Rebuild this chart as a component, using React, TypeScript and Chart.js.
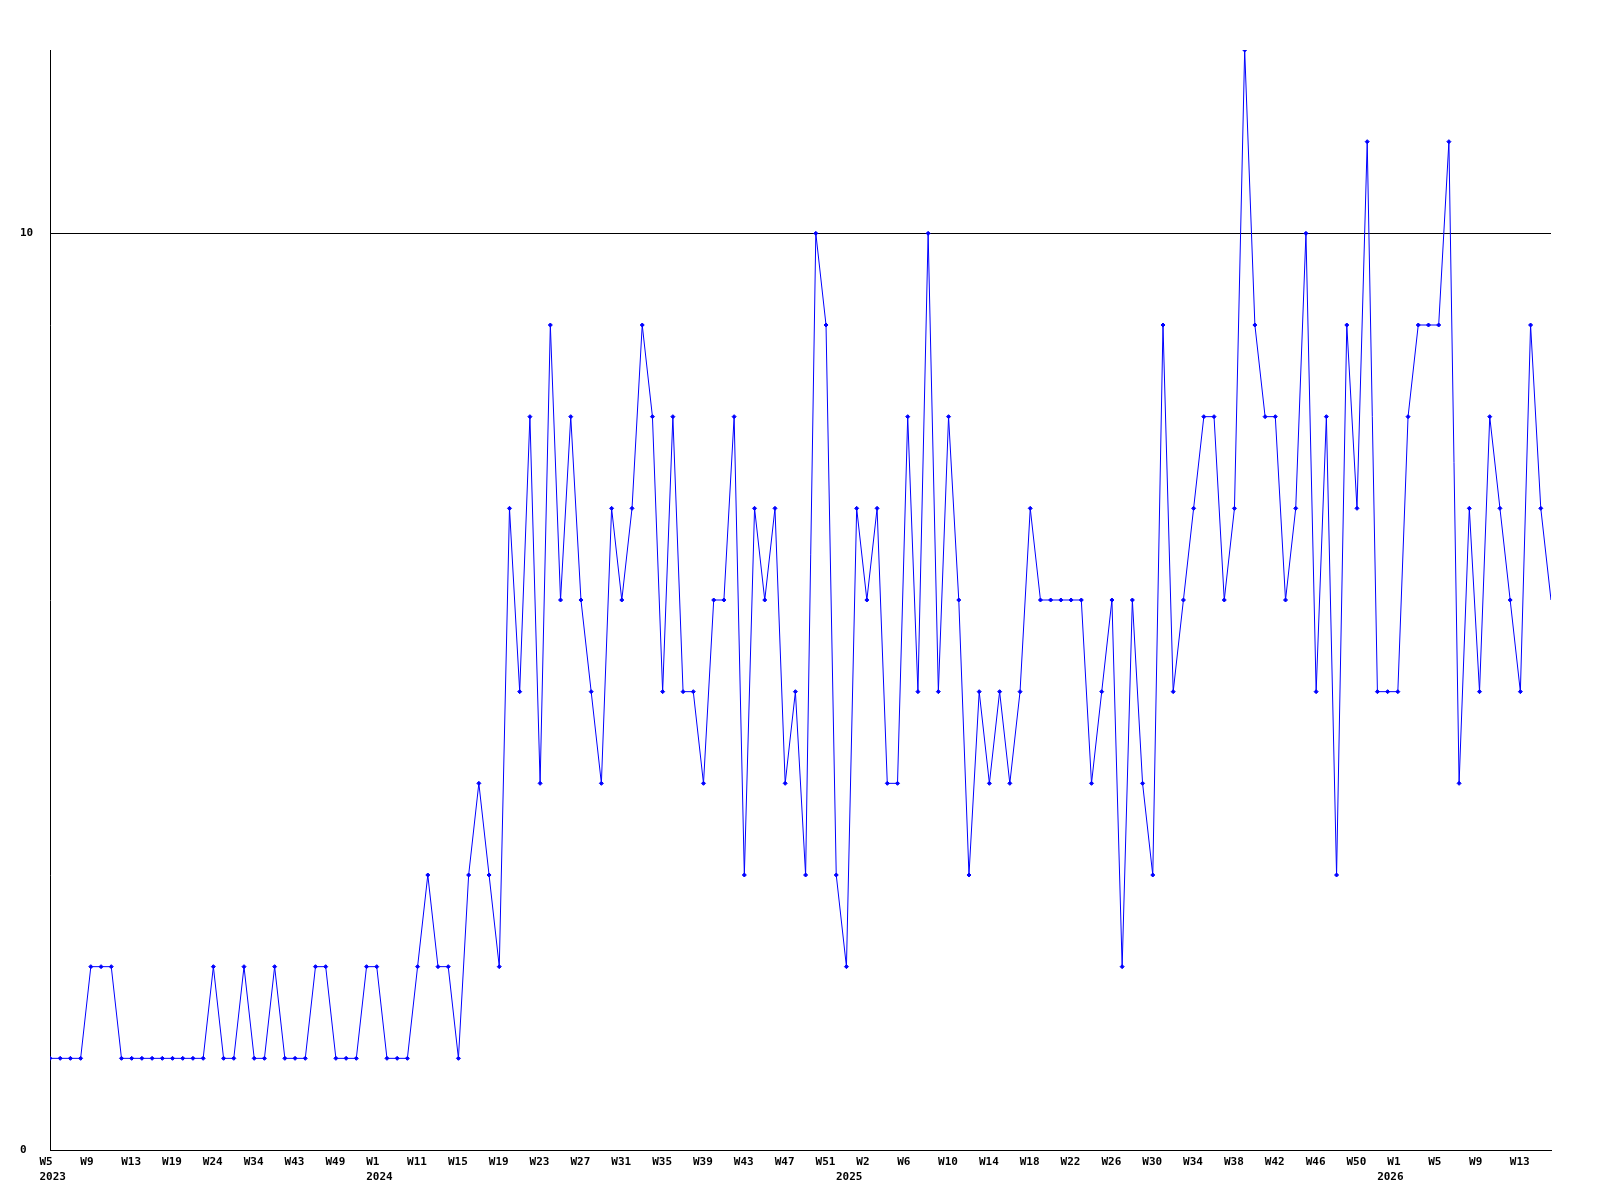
import React, { useEffect, useRef } from "react";
import { Chart, registerables } from "chart.js";

Chart.register(...registerables);

const values: number[] = [
  1, 1, 1, 1, 2, 2, 2, 1, 1, 1, 1, 1, 1, 1, 1, 1,
  2, 1, 1, 2, 1, 1, 2, 1, 1, 1, 2, 2, 1, 1, 1, 2,
  2, 1, 1, 1, 2, 3, 2, 2, 1, 3, 4, 3, 2, 7, 5, 8,
  4, 9, 6, 8, 6, 5, 4, 7, 6, 7, 9, 8, 5, 8, 5, 5,
  4, 6, 6, 8, 3, 7, 6, 7, 4, 5, 3, 10, 9, 3, 2, 7,
  6, 7, 4, 4, 8, 5, 10, 5, 8, 6, 3, 5, 4, 5, 4, 5,
  7, 6, 6, 6, 6, 6, 4, 5, 6, 2, 6, 4, 3, 9, 5, 6,
  7, 8, 8, 6, 7, 12, 9, 8, 8, 6, 7, 10, 5, 8, 3, 9,
  7, 11, 5, 5, 5, 8, 9, 9, 9, 11, 4, 7, 5, 8, 7, 6,
  5, 9, 7, 6,
];

const tickWeeks: string[] = [
  "W5", "W9", "W13", "W19", "W24", "W34", "W43", "W49",
  "W1", "W11", "W15", "W19", "W23", "W27", "W31", "W35", "W39", "W43", "W47", "W51",
  "W2", "W6", "W10", "W14", "W18", "W22", "W26", "W30", "W34", "W38", "W42", "W46", "W50",
  "W1", "W5", "W9", "W13",
];

const yearLabels: string[] = ["2023", "2024", "2025", "2026"];
const yearStartIndex: number[] = [0, 32, 78, 131];

const yTickValues: number[] = [0, 10];
const TICK_STEP = 4;

export default function App() {
  const ref = useRef<HTMLCanvasElement | null>(null);

  useEffect(() => {
    if (!ref.current) return;
    const font = { family: "'DejaVu Sans Mono', monospace", size: 11, weight: "bold" as const, lineHeight: 1.4 };
    const lastIdx = values.length - 1;
    const chart = new Chart(ref.current, {
      type: "line",
      data: {
        datasets: [
          {
            data: values.map((v, i) => ({ x: i, y: v })),
            borderColor: "#0000ff",
            backgroundColor: "#0000ff",
            borderWidth: 1,
            pointStyle: "rectRot",
            pointRadius: (ctx: any) => (ctx.dataIndex === lastIdx ? 0 : 2),
            pointBorderWidth: 1,
            pointBackgroundColor: "#0000ff",
            pointBorderColor: "#0000ff",
            tension: 0,
          },
        ],
      },
      options: {
        animation: false,
        responsive: false,
        devicePixelRatio: 1,
        layout: { padding: { left: 12, top: 42, right: 41, bottom: 0 } },
        plugins: { legend: { display: false }, tooltip: { enabled: false } },
        scales: {
          x: {
            type: "linear",
            position: "bottom",
            weight: 0,
            min: 0,
            max: lastIdx,
            afterBuildTicks: (scale: any) => {
              scale.ticks = tickWeeks.map((_, k) => ({ value: k * TICK_STEP }));
            },
            afterFit: (scale: any) => {
              scale.height = 16;
            },
            grid: { display: false, drawTicks: false },
            border: { display: true, color: "#000000", width: 1 },
            ticks: {
              autoSkip: false,
              maxRotation: 0,
              minRotation: 0,
              align: "start",
              labelOffset: -10.5,
              padding: 4,
              color: "#000000",
              font,
              callback: (v: any) => tickWeeks[Math.round(Number(v) / TICK_STEP)] ?? "",
            },
          },
          years: {
            type: "linear",
            position: "bottom",
            axis: "x",
            weight: 1,
            min: 0,
            max: lastIdx,
            afterBuildTicks: (scale: any) => {
              scale.ticks = yearStartIndex.map((v) => ({ value: v }));
            },
            afterFit: (scale: any) => {
              scale.height = 26;
            },
            grid: { display: false, drawTicks: false },
            border: { display: false },
            ticks: {
              autoSkip: false,
              maxRotation: 0,
              minRotation: 0,
              align: "start",
              labelOffset: -10.5,
              padding: 3,
              color: "#000000",
              font,
              callback: (v: any) => {
                const k = yearStartIndex.indexOf(Math.round(Number(v)));
                return k >= 0 ? yearLabels[k] : "";
              },
            },
          },
          y: {
            type: "linear",
            min: 0,
            max: 12,
            afterBuildTicks: (scale: any) => {
              scale.ticks = yTickValues.map((v) => ({ value: v }));
            },
            afterFit: (scale: any) => {
              scale.width = 30;
            },
            grid: { color: "#000000", lineWidth: 1, drawTicks: false },
            border: { display: true, color: "#000000", width: 1 },
            ticks: {
              crossAlign: "far",
              padding: 0,
              color: "#000000",
              font,
              callback: (v: any) => String(v),
            },
          },
        },
      },
    });
    return () => chart.destroy();
  }, []);

  return (
    <div style={{ width: 1584, height: 1184 }}>
      <canvas ref={ref} width={1584} height={1184} style={{ display: "block" }} />
    </div>
  );
}
